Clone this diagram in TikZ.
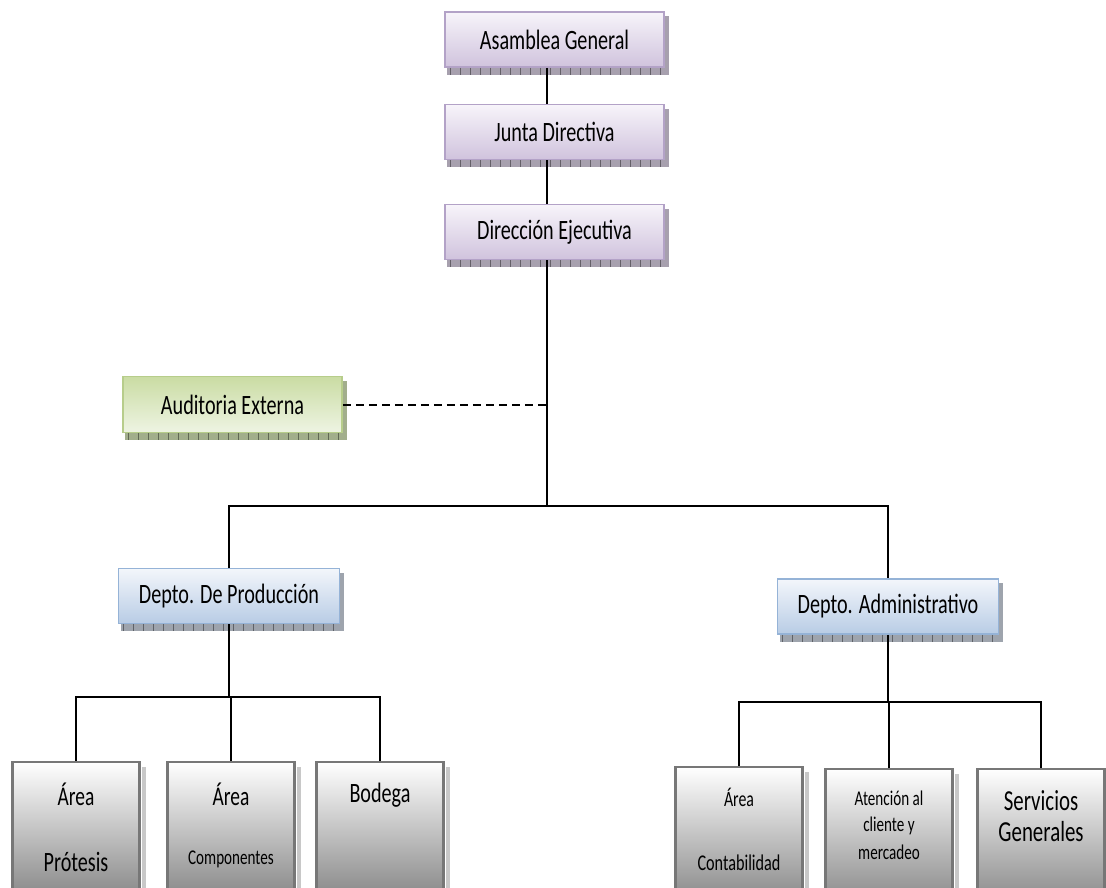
\documentclass[tikz,border=0pt]{standalone}
\usepackage{fontspec}
\setmainfont{Carlito}
\newfontfamily\narrowfont{Carlito}[FakeStretch=0.72]
\usetikzlibrary{calc}

\definecolor{purpletop}{HTML}{F7F4FA}
\definecolor{purplebot}{HTML}{D0C3DD}
\definecolor{purpleedge}{HTML}{B3A2C7}
\definecolor{purpleshade}{HTML}{A7A0AE}
\definecolor{greentop}{HTML}{CADCA3}
\definecolor{greenbot}{HTML}{EEF4E3}
\definecolor{greenedge}{HTML}{B7CD8B}
\definecolor{greenshade}{HTML}{A2AE8C}
\definecolor{bluetop}{HTML}{F3F6FB}
\definecolor{bluebot}{HTML}{B8CCE5}
\definecolor{blueedge}{HTML}{95B3D7}
\definecolor{blueshade}{HTML}{9EA4AD}
\definecolor{greytop}{HTML}{FFFFFF}
\definecolor{greybot}{HTML}{8A8A8A}
\definecolor{greyedge}{HTML}{777777}
\definecolor{greyshade}{HTML}{C8C8C8}

\newcommand{\txtsize}[1]{\narrowfont\fontsize{#1}{#1}\selectfont}

% hatched drop shadow below and to the right of a box
\newcommand{\boxshadow}[2]{%
  \fill[#2] ($(#1.south west)+(3,0)$) rectangle ($(#1.south east)+(4,7)$);
  \fill[#2] ($(#1.north east)+(0,5)$) rectangle ($(#1.south east)+(4,0)$);
  \foreach \k in {0,...,21}{
    \draw[#2!60!black, line width=0.5pt] ($(#1.south west)+(6+\k*10,0)$) -- ++(0,7);
  }
}

\tikzset{
  boxbase/.style={rectangle, inner sep=0pt, text=black, align=center},
  purplebox/.style={boxbase, draw=purpleedge, line width=1.6pt,
    top color=purpletop, bottom color=purplebot,
    minimum width=219pt, minimum height=55pt, font=\txtsize{28}},
  greenbox/.style={boxbase, draw=greenedge, line width=1.6pt,
    top color=greentop, bottom color=greenbot,
    minimum width=219pt, minimum height=56pt, font=\txtsize{28}},
  bluebox/.style={boxbase, draw=blueedge, line width=1.6pt,
    top color=bluetop, bottom color=bluebot,
    minimum width=221pt, minimum height=55pt, font=\txtsize{28}},
  greybox/.style={boxbase, draw=greyedge, line width=2.6pt,
    top color=greytop, bottom color=greybot,
    minimum width=127pt, minimum height=133pt},
  lbl/.style={inner sep=0pt, text=black},
  link/.style={draw=black, line width=1.7pt},
  dashlink/.style={draw=black, line width=2pt, dash pattern=on 8pt off 5pt},
}

\begin{document}
\begin{tikzpicture}[x=1pt, y=-1pt]
\useasboundingbox (0,0) rectangle (1106,887);
\clip (0,0) rectangle (1106,887);
\fill[white] (0,0) rectangle (1106,887);

\coordinate (trunk) at (547,0);

% upper chain
\node[purplebox] (asam) at (554.5,39.5) {Asamblea General};
\node[purplebox] (junta) at (554.5,132) {Junta Directiva};
\node[purplebox] (direc) at (554.5,232) {Dirección Ejecutiva};
\node[greenbox] (audit) at (232.5,404.5) {Auditoria Externa};

% departments
\node[bluebox] (prod) at (229,596) {Depto. De Producción};
\node[bluebox] (admin) at (888,606.5) {Depto. Administrativo};

% areas
\node[greybox] (protesis) at (76,828.5) {};
\node[greybox] (compo) at (231,828.5) {};
\node[greybox] (bodega) at (380,828.5) {};
\node[greybox] (conta) at (739,833.5) {};
\node[greybox] (atenc) at (889,835.5) {};
\node[greybox] (servi) at (1041,835.5) {};

\node[lbl, font=\txtsize{27}] (protesis-a) at ([yshift=-34pt]protesis.north) {Área};
\node[lbl, font=\txtsize{28}] (protesis-b) at ([yshift=-101pt]protesis.north) {Prótesis};
\node[lbl, font=\txtsize{27}] (compo-a) at ([yshift=-34pt]compo.north) {Área};
\node[lbl, font=\txtsize{21}] (compo-b) at ([yshift=-99pt]compo.north) {Componentes};
\node[lbl, font=\txtsize{28}] (bodega-a) at ([yshift=-34pt]bodega.north) {Bodega};
\node[lbl, font=\txtsize{22}] (conta-a) at ([yshift=-32pt]conta.north) {Área};
\node[lbl, font=\txtsize{22.5}] (conta-b) at ([yshift=-97pt]conta.north) {Contabilidad};
\node[lbl, font=\txtsize{21}] (atenc-a) at ([yshift=-31pt]atenc.north) {Atención al};
\node[lbl, font=\txtsize{21}] (atenc-b) at ([yshift=-58pt]atenc.north) {cliente y};
\node[lbl, font=\txtsize{21}] (atenc-c) at ([yshift=-85pt]atenc.north) {mercadeo};
\node[lbl, font=\txtsize{29}] (servi-a) at ([yshift=-33pt]servi.north) {Servicios};
\node[lbl, font=\txtsize{29}] (servi-b) at ([yshift=-64pt]servi.north) {Generales};

% shadows
\boxshadow{asam}{purpleshade}
\boxshadow{junta}{purpleshade}
\boxshadow{direc}{purpleshade}
\boxshadow{audit}{greenshade}
\boxshadow{prod}{blueshade}
\boxshadow{admin}{blueshade}
\foreach \b in {protesis,compo,bodega,conta,atenc}{
  \fill[greyshade] ($(\b.north east)+(1.5,6)$) rectangle ($(\b.south east)+(5,0)$);
}

% junction points of the tree
\coordinate (mainbar) at (0,506);
\coordinate (leftbar) at (0,697);
\coordinate (rightbar) at (0,702);

% connectors
\draw[link] (asam.south -| trunk) -- (junta.north -| trunk);
\draw[link] (junta.south -| trunk) -- (direc.north -| trunk);
\draw[link] (direc.south -| trunk) -- (mainbar -| trunk);
\draw[dashlink] (audit.east) -- (audit.east -| trunk);
\draw[link] (prod.north) -- (mainbar -| prod.north) -- (mainbar -| admin.north) -- (admin.north);

\draw[link] (prod.south) -- (leftbar -| prod.south);
\draw[link] (protesis.north) -- (leftbar -| protesis.north) -- (leftbar -| bodega.north) -- (bodega.north);
\draw[link] (leftbar -| compo.north) -- (compo.north);

\draw[link] (admin.south) -- (rightbar -| admin.south);
\draw[link] (conta.north) -- (rightbar -| conta.north) -- (rightbar -| servi.north) -- (servi.north);
\draw[link] (rightbar -| atenc.north) -- (atenc.north);
\end{tikzpicture}
\end{document}
